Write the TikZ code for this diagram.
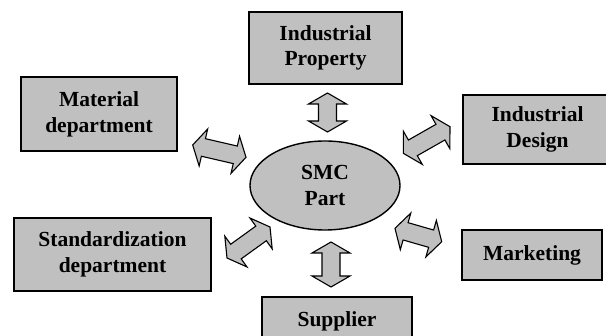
\documentclass[tikz,border=0pt]{standalone}
\usepackage{fontspec}
\setmainfont{Liberation Serif}
\usetikzlibrary{calc,shapes.geometric}
\definecolor{boxgray}{RGB}{192,192,192}
\tikzset{
  box/.style={draw=black, line width=1.4pt, fill=boxgray, rectangle, inner sep=0pt,
    align=center, font=\fontsize{21.5}{25.7}\selectfont\bfseries},
  hub/.style={draw=black, line width=1.4pt, fill=boxgray, ellipse, inner sep=0pt,
    align=center, font=\fontsize{21.5}{25.7}\selectfont\bfseries},
  blockarrowstyle/.style={draw=black, line width=1.1pt, fill=boxgray, line join=miter},
}
\def\ahl{11pt}
\def\ahw{19pt}
\def\asw{9pt}
\newcommand\blockarrow[3]{%
  \coordinate (#1-a) at (#2);
  \coordinate (#1-b) at (#3);
  \draw[blockarrowstyle] (#1-a)
    -- ($(#1-a)!\ahl!(#1-b)!\ahw!90:(#1-b)$)
    -- ($(#1-a)!\ahl!(#1-b)!\asw!90:(#1-b)$)
    -- ($(#1-b)!\ahl!(#1-a)!\asw!-90:(#1-a)$)
    -- ($(#1-b)!\ahl!(#1-a)!\ahw!-90:(#1-a)$)
    -- (#1-b)
    -- ($(#1-b)!\ahl!(#1-a)!\ahw!90:(#1-a)$)
    -- ($(#1-b)!\ahl!(#1-a)!\asw!90:(#1-a)$)
    -- ($(#1-a)!\ahl!(#1-b)!\asw!-90:(#1-b)$)
    -- ($(#1-a)!\ahl!(#1-b)!\ahw!-90:(#1-b)$)
    -- cycle;
}
\begin{document}
\begin{tikzpicture}[x=1pt,y=-1pt]
  \useasboundingbox (0,0) rectangle (606,336);
  \clip (0,0) rectangle (606,336);
  \fill[white] (0,0) rectangle (606,336);

  \node[hub, minimum width=150pt, minimum height=89pt] (smc) at (325,185.5) {SMC\\Part};

  \node[box, minimum width=153pt, minimum height=72pt] (ip) at (325.5,48) {Industrial\\Property};
  \node[box, minimum width=156pt, minimum height=74pt] (mat) at (99,114) {Material\\department};
  \node[box, minimum width=149pt, minimum height=69pt] (id) at (537.5,129.5) {Industrial\\Design};
  \node[box, minimum width=197pt, minimum height=73pt] (std) at (112.5,254.5) {Standardization\\department};
  \node[box, minimum width=140pt, minimum height=50pt] (mkt) at (532,255) {Marketing};
  \node[box, minimum width=150pt, minimum height=48pt] (sup) at (337,321) {Supplier};

  \blockarrow{aip}{327.5,93}{327.5,132}
  \blockarrow{asup}{331,242}{331,287}
  \blockarrow{amat}{192.7,145}{246,157.3}
  \blockarrow{aid}{403.3,153.3}{450,126.7}
  \blockarrow{astd}{227,258}{270,227}
  \blockarrow{amkt}{395,228.3}{441.7,241.7}
\end{tikzpicture}
\end{document}
